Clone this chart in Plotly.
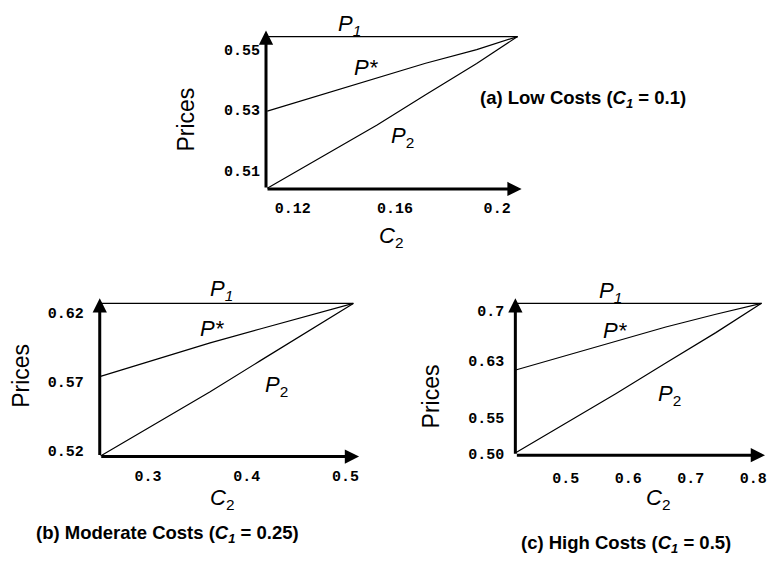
import plotly.graph_objects as go

W, H = 767, 566

# ---------------- data ----------------
a_c2 = [0.11, 0.133, 0.153, 0.172, 0.192, 0.208]
a_pstar = [0.5296, 0.5355, 0.5407, 0.5454, 0.5499, 0.5542]
a_p2 = [0.5041, 0.5152, 0.5250, 0.5350, 0.5453, 0.5542]
a_p1 = [0.5542, 0.5542]

b_c2 = [0.252, 0.3125, 0.363, 0.4135, 0.464, 0.508]
b_pstar = [0.5738, 0.5869, 0.5981, 0.6081, 0.6181, 0.6267]
b_p2 = [0.5160, 0.5412, 0.5626, 0.5850, 0.6071, 0.6267]
b_p1 = [0.6267, 0.6267]

c_c2 = [0.42, 0.50, 0.58, 0.66, 0.74, 0.813]
c_pstar = [0.6169, 0.6365, 0.6570, 0.6767, 0.6945, 0.7096]
c_p2 = [0.5019, 0.5426, 0.5840, 0.6265, 0.6689, 0.7096]
c_p1 = [0.7096, 0.7096]

a_xticks = [0.12, 0.16, 0.2]
a_xlabels = ["0.12", "0.16", "0.2"]
a_yticks = [0.51, 0.53, 0.55]
a_ylabels = ["0.51", "0.53", "0.55"]

b_xticks = [0.3, 0.4, 0.5]
b_xlabels = ["0.3", "0.4", "0.5"]
b_yticks = [0.52, 0.57, 0.62]
b_ylabels = ["0.52", "0.57", "0.62"]

c_xticks = [0.5, 0.6, 0.7, 0.8]
c_xlabels = ["0.5", "0.6", "0.7", "0.8"]
c_yticks = [0.50, 0.55, 0.63, 0.7]
c_ylabels = ["0.50", "0.55", "0.63", "0.7"]

titles = ["<b>(a) Low Costs (<i>C<sub>1</sub></i> = 0.1)</b>",
          "<b>(b) Moderate Costs (<i>C<sub>1</sub></i> = 0.25)</b>",
          "<b>(c) High Costs (<i>C<sub>1</sub></i> = 0.5)</b>"]

# ---------------- layout geometry (pixels) ----------------
panels = [
    dict(c2=a_c2, ps=a_pstar, p2=a_p2, p1=a_p1,
         xr=[0.1095, 0.2096], yr=[0.5039, 0.5562],
         px=[266.7, 523], py=[31, 192],
         xt=a_xticks, xl=a_xlabels, yt=a_yticks, yl=a_ylabels,
         xstand=8, ystand=5,
         lab=dict(P1=(350, 25), Ps=(367, 69), P2=(404, 139), C2=(392, 241),
                  Pr=(187, 122), T=(585, 101))),
    dict(c2=b_c2, ps=b_pstar, p2=b_p2, p1=b_p1,
         xr=[0.2512, 0.5138], yr=[0.5155, 0.6305],
         px=[100, 360], py=[303, 464],
         xt=b_xticks, xl=b_xlabels, yt=b_yticks, yl=b_ylabels,
         xstand=8, ystand=15,
         lab=dict(P1=(222, 295), Ps=(213, 334), P2=(277, 392), C2=(223, 507),
                  Pr=(21, 382), T=(168, 543))),
    dict(c2=c_c2, ps=c_pstar, p2=c_p2, p1=c_p1,
         xr=[0.4195, 0.8186], yr=[0.4985, 0.7168],
         px=[516.7, 767], py=[303, 462.5],
         xt=c_xticks, xl=c_xlabels, yt=c_yticks, yl=c_ylabels,
         xstand=12, ystand=10,
         lab=dict(P1=(612, 297), Ps=(617, 336), P2=(671, 401), C2=(660, 507),
                  Pr=(432, 403), T=(628, 553))),
]

fig = go.Figure()
annotations = []
layout = {}

def px2paper(x, y):
    return x / W, 1 - y / H

TF = dict(family="Liberation Sans", color="black")
TICKF = dict(family="Liberation Mono", size=15, color="black", weight="bold")

for i, p in enumerate(panels):
    n = "" if i == 0 else str(i + 1)
    xa, ya = "x" + n, "y" + n
    line = dict(color="black", width=1.2)
    fig.add_trace(go.Scatter(x=[p["xr"][0], p["c2"][-1]], y=p["p1"], mode="lines",
                             line=line, xaxis=xa, yaxis=ya, showlegend=False))
    fig.add_trace(go.Scatter(x=p["c2"], y=p["ps"], mode="lines", line=line,
                             xaxis=xa, yaxis=ya, showlegend=False))
    fig.add_trace(go.Scatter(x=p["c2"], y=p["p2"], mode="lines", line=line,
                             xaxis=xa, yaxis=ya, showlegend=False))

    layout["xaxis" + n] = dict(
        domain=[p["px"][0] / W, min(p["px"][1] / W, 1.0)], range=p["xr"],
        anchor=ya, showgrid=False, zeroline=False, showline=False,
        tickvals=p["xt"], ticktext=p["xl"], ticks="", tickfont=TICKF,
        ticklabelstandoff=p["xstand"], ticklabeloverflow="allow", fixedrange=True)
    layout["yaxis" + n] = dict(
        domain=[1 - p["py"][1] / H, 1 - p["py"][0] / H], range=p["yr"],
        anchor=xa, showgrid=False, zeroline=False, showline=False,
        tickvals=p["yt"], ticktext=p["yl"], ticks="", tickfont=TICKF,
        ticklabelstandoff=p["ystand"], ticklabeloverflow="allow", fixedrange=True)

    x0, x1 = p["xr"]
    y0, y1 = p["yr"]
    arrow = dict(text="", showarrow=True, arrowhead=2, arrowsize=0.95,
                 arrowwidth=3, arrowcolor="black", xref=xa, yref=ya,
                 axref=xa, ayref=ya, standoff=0, startstandoff=0)
    annotations.append(dict(arrow, x=x1, y=y0, ax=x0, ay=y0))
    annotations.append(dict(arrow, x=x0, y=y1, ax=x0, ay=y0))

    L = p["lab"]
    def addtxt(key, text, size, angle=0):
        xx, yy = px2paper(*L[key])
        annotations.append(dict(text=text, x=xx, y=yy, xref="paper", yref="paper",
                                xanchor="center", yanchor="middle", showarrow=False,
                                textangle=angle, font=dict(TF, size=size)))
    addtxt("P1", "<i>P<sub>1</sub></i>", 22)
    addtxt("Ps", "<i>P*</i>", 22)
    addtxt("P2", "<i>P</i><sub>2</sub>", 22)
    addtxt("C2", "<i>C</i><sub>2</sub>", 22)
    addtxt("Pr", "Prices", 23, -90)
    addtxt("T", titles[i], 18.5)

fig.update_layout(
    width=W, height=H, margin=dict(l=0, r=0, t=0, b=0),
    paper_bgcolor="white", plot_bgcolor="white",
    annotations=annotations, **layout)

post = ("document.body.style.margin='0';"
        "document.documentElement.style.overflow='hidden';"
        "document.body.style.overflow='hidden';"
        "var gd=document.getElementById('{plot_id}');"
        "gd.style.position='fixed';gd.style.left='0';gd.style.top='0';")

fig.write_html("out.html", config={"displayModeBar": False}, post_script=post)
